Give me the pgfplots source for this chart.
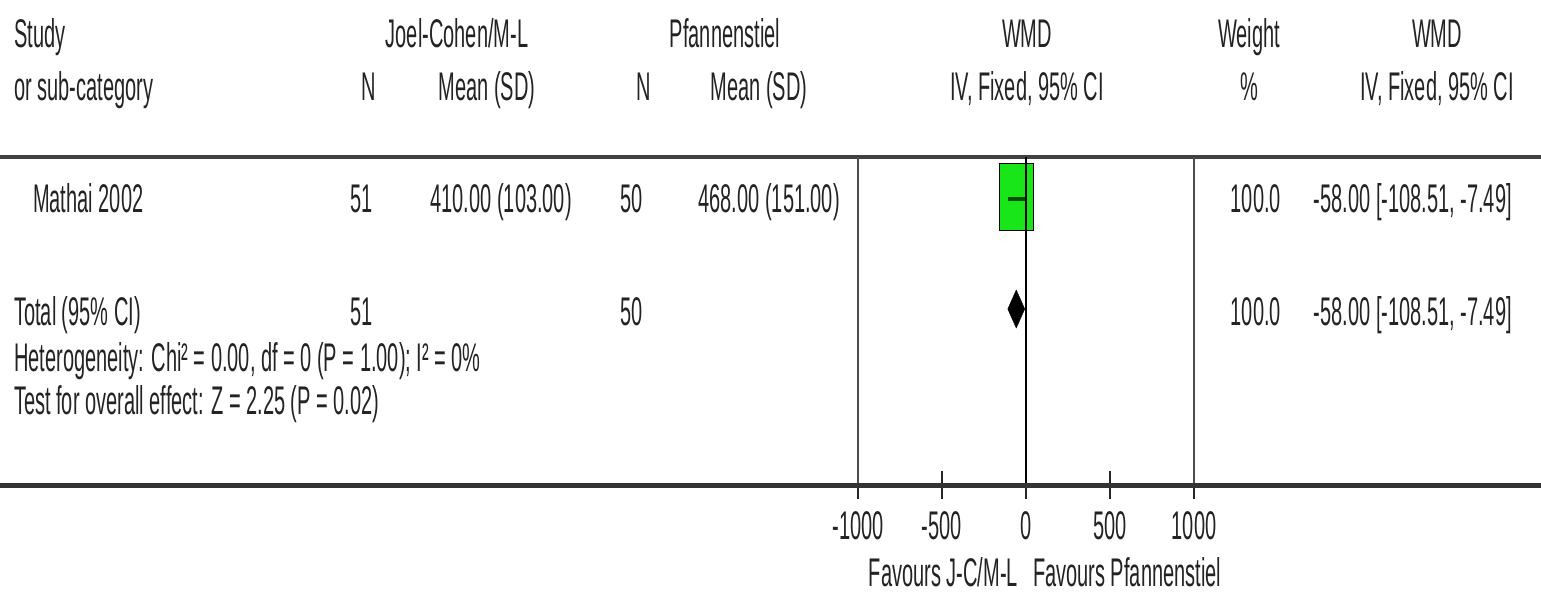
\documentclass[border=0pt]{standalone}
\usepackage{fontspec}
\setmainfont{Liberation Sans}[FakeStretch=0.5]
\usepackage{pgfplots}
\pgfplotsset{compat=1.18}
\definecolor{boxgreen}{RGB}{25,230,25}
\definecolor{cigreen}{RGB}{0,80,0}
\definecolor{txt}{RGB}{35,35,35}
\newcommand\tf{\fontsize{40}{48}\selectfont}
\begin{document}
\begin{tikzpicture}
\useasboundingbox (0,0) rectangle (1541pt,-597pt);
\begin{scope}[x=1pt,y=-1pt, every node/.style={font=\tf, text=txt, inner sep=0pt}]
 % header row 1
 \node[anchor=base west] at (14,47) {Study};
 \node[anchor=base] at (457,47) {Joel-Cohen/M-L};
 \node[anchor=base] at (725,47) {Pfannenstiel};
 \node[anchor=base] at (1027,47) {WMD};
 \node[anchor=base] at (1249,47) {Weight};
 \node[anchor=base] at (1437,47) {WMD};
 % header row 2
 \node[anchor=base west] at (14,100) {or sub-category};
 \node[anchor=base] at (369,100) {N};
 \node[anchor=base] at (487,100) {Mean (SD)};
 \node[anchor=base] at (644,100) {N};
 \node[anchor=base] at (759,100) {Mean (SD)};
 \node[anchor=base] at (1027,100) {IV, Fixed, 95\% CI};
 \node[anchor=base] at (1249,100) {\%};
 \node[anchor=base] at (1437,100) {IV, Fixed, 95\% CI};
 % study row
 \node[anchor=base west] at (33,212) {Mathai 2002};
 \node[anchor=base east] at (373,212) {51};
 \node[anchor=base east] at (572,212) {410.00 (103.00)};
 \node[anchor=base east] at (643,212) {50};
 \node[anchor=base east] at (840,212) {468.00 (151.00)};
 \node[anchor=base east] at (1281,212) {100.0};
 \node[anchor=base east] at (1512,212) {-58.00 [-108.51, -7.49]};
 % total row
 \node[anchor=base west] at (14,325) {Total (95\% CI)};
 \node[anchor=base east] at (373,325) {51};
 \node[anchor=base east] at (643,325) {50};
 \node[anchor=base east] at (1281,325) {100.0};
 \node[anchor=base east] at (1512,325) {-58.00 [-108.51, -7.49]};
 \node[anchor=base west] at (14,371) {Heterogeneity: Chi² = 0.00, df = 0 (P = 1.00); I² = 0\%};
 \node[anchor=base west] at (14,414) {Test for overall effect: Z = 2.25 (P = 0.02)};
 % favours
 \node[anchor=base east] at (1018,586) {Favours J-C/M-L};
 \node[anchor=base west] at (1033,586) {Favours Pfannenstiel};
 % rules
 \draw[line width=4pt, black!75] (0,157) -- (1541,157);
\end{scope}
\begin{axis}[at={(858pt,-485pt)}, anchor=south west,
  width=336pt, height=328pt, scale only axis,
  xmin=-1000, xmax=1000, ymin=-485, ymax=-157, clip=false,
  clip marker paths=true,
  axis y line=none, axis x line*=bottom, x axis line style={draw=none},
  xtick={-1000,-500,0,500,1000}, xticklabels={-1000,-500,0,500,1000},
  xtick align=center, major tick length=28pt,
  major tick style={line width=2pt, black!85},
  xticklabel style={anchor=base, yshift=-40pt, font=\tf, text=txt, inner sep=0pt}]
 \draw[line width=2.5pt, black!70] (axis cs:-1000,-157) -- (axis cs:-1000,-485);
 \draw[line width=2.5pt, black!70] (axis cs:1000,-157) -- (axis cs:1000,-485);
 % study box and CI
 \addplot[only marks, mark=square*, mark size=17pt,
   mark options={yscale=1.97, fill=boxgreen, draw=none}] coordinates {(-58,-196.5)};
 \addplot[line width=3.5pt, cigreen] coordinates {(-108.51,-199) (-7.49,-199)};
 \draw[line width=2pt, black] (axis cs:0,-157) -- (axis cs:0,-485);
 % total diamond
 \addplot[fill=black, draw=black] coordinates {(-108.51,-309) (-58,-290) (-7.49,-309) (-58,-328)} -- cycle;
\end{axis}
\draw[line width=5pt, black!80] (0pt,-485pt) -- (1541pt,-485pt);
\end{tikzpicture}
\end{document}
